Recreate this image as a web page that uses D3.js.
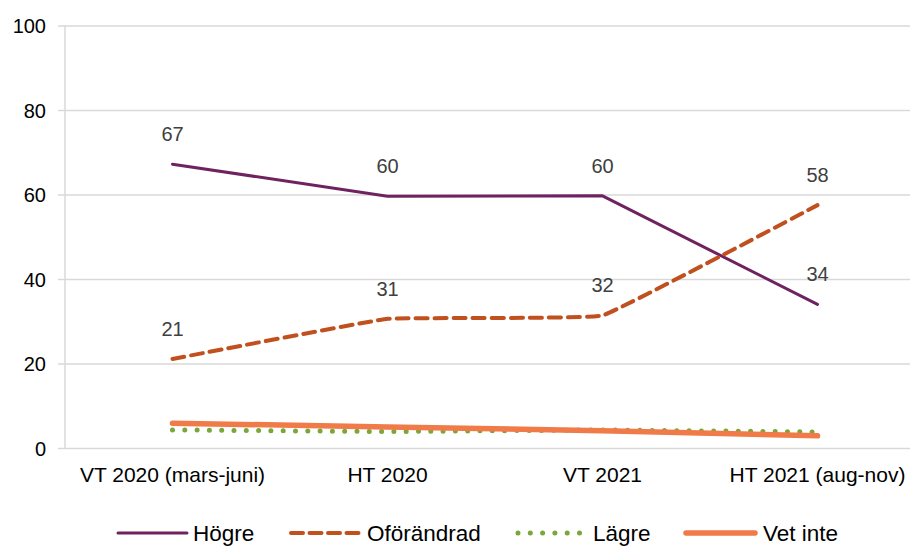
<!DOCTYPE html>
<html>
<head>
<meta charset="utf-8">
<script src="https://cdn.jsdelivr.net/npm/d3@7"></script>
<style>
  body { margin: 0; background: #fff; }
  text { font-family: "Liberation Sans", Arial, sans-serif; }
</style>
</head>
<body>
<svg id="chart" width="910" height="547"></svg>
<script>
// data
var categories = ["VT 2020 (mars-juni)", "HT 2020", "VT 2021", "HT 2021 (aug-nov)"];
var hogre = [67.3, 59.7, 59.8, 34.1];
var oforandrad = [21.2, 30.7, 31.5, 57.6];
var lagre = [4.4, 4.0, 4.4, 3.9];
var vetInte = [6.0, 5.1, 4.2, 3.0];
var yTicks = [0, 20, 40, 60, 80, 100];

var series = [
  {name: "Högre", values: hogre, color: "#6e2360", width: 3, dash: null, labels: true, curve: d3.curveLinear},
  {name: "Oförändrad", values: oforandrad, color: "#c0501e", width: 4, dash: "12,7", labels: true, curve: d3.curveCardinal.tension(0.8)},
  {name: "Lägre", values: lagre, color: "#7aa63a", width: 5, dash: "0,12.3", labels: false, curve: d3.curveLinear},
  {name: "Vet inte", values: vetInte, color: "#f07a48", width: 5.5, dash: null, labels: false, curve: d3.curveLinear}
];

var svg = d3.select("#chart"),
    W = +svg.attr("width"),
    plotLeft = 65, plotTop = 26, plotBottom = 448.5;

var x = d3.scaleBand().domain(categories).range([plotLeft, plotLeft + 860]);
var y = d3.scaleLinear().domain([0, 100]).range([plotBottom, plotTop]);

// gridlines
svg.append("g").selectAll("line")
  .data(yTicks)
  .enter().append("line")
    .attr("x1", plotLeft - 7).attr("x2", W)
    .attr("y1", function(d){ return y(d); })
    .attr("y2", function(d){ return y(d); })
    .attr("stroke", "#d9d9d9").attr("stroke-width", 1.5);

// y axis line
svg.append("line")
  .attr("x1", plotLeft).attr("x2", plotLeft)
  .attr("y1", y(100)).attr("y2", y(0))
  .attr("stroke", "#d9d9d9").attr("stroke-width", 1.5);

// y tick labels
svg.append("g").selectAll("text")
  .data(yTicks)
  .enter().append("text")
    .attr("x", 46)
    .attr("y", function(d){ return y(d); })
    .attr("dy", "0.35em")
    .attr("text-anchor", "end")
    .attr("font-size", 20)
    .attr("fill", "#000")
    .text(function(d){ return d; });

// x labels
svg.append("g").selectAll("text")
  .data(categories)
  .enter().append("text")
    .attr("x", function(d){ return x(d) + x.bandwidth()/2; })
    .attr("y", 475)
    .attr("dy", "0.35em")
    .attr("text-anchor", "middle")
    .attr("font-size", 21)
    .attr("fill", "#000")
    .text(function(d){ return d; });

// lines
series.forEach(function(s){
  var line = d3.line()
    .x(function(d, i){ return x(categories[i]) + x.bandwidth()/2; })
    .y(function(d){ return y(d); })
    .curve(s.curve);
  svg.append("path")
    .datum(s.values)
    .attr("d", line)
    .attr("fill", "none")
    .attr("stroke", s.color)
    .attr("stroke-width", s.width)
    .attr("stroke-linecap", "round")
    .attr("stroke-linejoin", "round")
    .attr("stroke-dasharray", s.dash);
});

// data labels
series.filter(function(s){ return s.labels; }).forEach(function(s){
  svg.append("g").selectAll("text")
    .data(s.values)
    .enter().append("text")
      .attr("x", function(d, i){ return x(categories[i]) + x.bandwidth()/2; })
      .attr("y", function(d){ return y(d) - 30; })
      .attr("dy", "0.35em")
      .attr("text-anchor", "middle")
      .attr("font-size", 20)
      .attr("fill", "#404040")
      .text(function(d){ return Math.round(d); });
});

// legend
var legendX = [118, 291, 518, 686];
var legendY = 533;
var leg = svg.append("g").selectAll("g")
  .data(series)
  .enter().append("g")
    .attr("transform", function(d, i){ return "translate(" + legendX[i] + "," + legendY + ")"; });
leg.append("line")
  .attr("x1", 0).attr("x2", function(d, i){ return i == 2 ? 64 : 69; })
  .attr("y1", 0).attr("y2", 0)
  .attr("stroke", function(d){ return d.color; })
  .attr("stroke-width", function(d){ return d.width; })
  .attr("stroke-linecap", "round")
  .attr("stroke-dasharray", function(d, i){ return i == 1 ? "12,6.5" : d.dash; });
leg.append("text")
  .attr("x", function(d, i){ return [75, 76, 75, 77][i]; })
  .attr("dy", "0.35em")
  .attr("font-size", 22.5)
  .attr("fill", "#000")
  .text(function(d){ return d.name; });
</script>
</body>
</html>
